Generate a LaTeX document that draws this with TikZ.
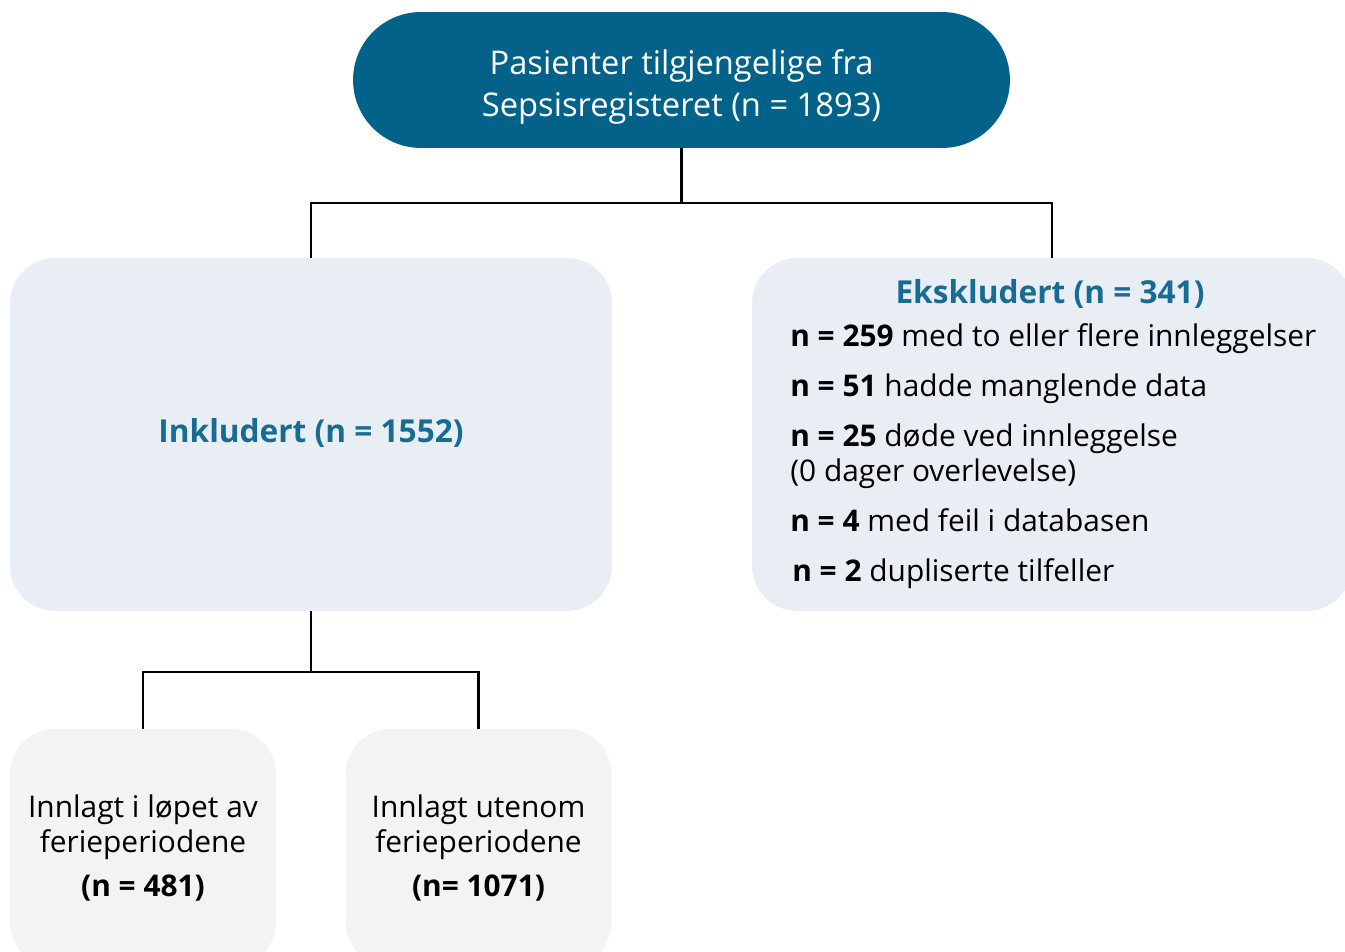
\documentclass[tikz,border=0pt]{standalone}
\usepackage{fontspec}
\setmainfont{Open Sans}
\usetikzlibrary{positioning}
\definecolor{topfill}{RGB}{2,98,138}
\definecolor{headtext}{RGB}{23,108,147}
\definecolor{mainbox}{RGB}{233,238,245}
\definecolor{subbox}{RGB}{243,243,243}

\begin{document}
\begin{tikzpicture}[x=0.02cm,y=-0.02cm,
  txt/.style={font=\fontsize{17}{19.5}\selectfont},
  source/.style={fill=topfill,rounded corners=1.36cm,
                 minimum width=13.14cm,minimum height=2.72cm,inner sep=0pt},
  sourcetext/.style={font=\fontsize{18.6}{24}\selectfont,text=white,align=center,inner sep=0pt},
  group/.style={fill=mainbox,rounded corners=0.9cm,inner sep=0pt},
  arm/.style={txt,fill=subbox,rounded corners=0.9cm,align=center,inner sep=0pt,
              minimum width=5.32cm,minimum height=4.76cm},
  head/.style={font=\fontsize{18}{24}\selectfont\bfseries,text=headtext},
  item/.style={txt,anchor=base west,inner sep=0pt,align=left},
  link/.style={black,line width=1.3pt}
]
\useasboundingbox (0,0) rectangle (1345,952);
\clip (0,0) rectangle (1345,952);

% source of all patients
\node[source] (src) at (681.5,80) {};
\node[sourcetext] (srctext) at (681.5,87) {Pasienter tilgjengelige fra\\Sepsisregisteret (n = 1893)};

% included and excluded
\node[group,minimum width=12.04cm,minimum height=7.06cm] (incl) at (311,434.5) {};
\node[head] (inclhead) at (311,433) {Inkludert (n = 1552)};
\node[group,minimum width=12.0cm,minimum height=7.06cm] (excl) at (1052,434.5) {};
\node[head,anchor=base] (exclhead) at (1050,304) {Ekskludert (n = 341)};
\node[item] (e1) at (790,347) {\textbf{n = 259} med to eller flere innleggelser};
\node[item] (e2) at (790,397) {\textbf{n = 51} hadde manglende data};
\node[item] (e3) at (790,481) {\textbf{n = 25} døde ved innleggelse\\(0 dager overlevelse)};
\node[item] (e4) at (790,531) {\textbf{n = 4} med feil i databasen};
\node[item] (e5) at (792,581) {\textbf{n = 2} dupliserte tilfeller};

% holiday split
\node[arm] (hol) at (143,848) {Innlagt i løpet av\\ferieperiodene\\[5.5pt]\textbf{(n = 481)}};
\node[arm] (nohol) at (478.5,848) {Innlagt utenom\\ferieperiodene\\[5.5pt]\textbf{(n= 1071)}};

% connectors
\draw[link] (src.south) -- ++(0,55) -| (incl.north);
\draw[link] (src.south) -- ++(0,55) -| (excl.north);
\draw[link] (incl.south) -- ++(0,61) -| (hol.north);
\draw[link] (incl.south) -- ++(0,61) -| (nohol.north);
\end{tikzpicture}
\end{document}
